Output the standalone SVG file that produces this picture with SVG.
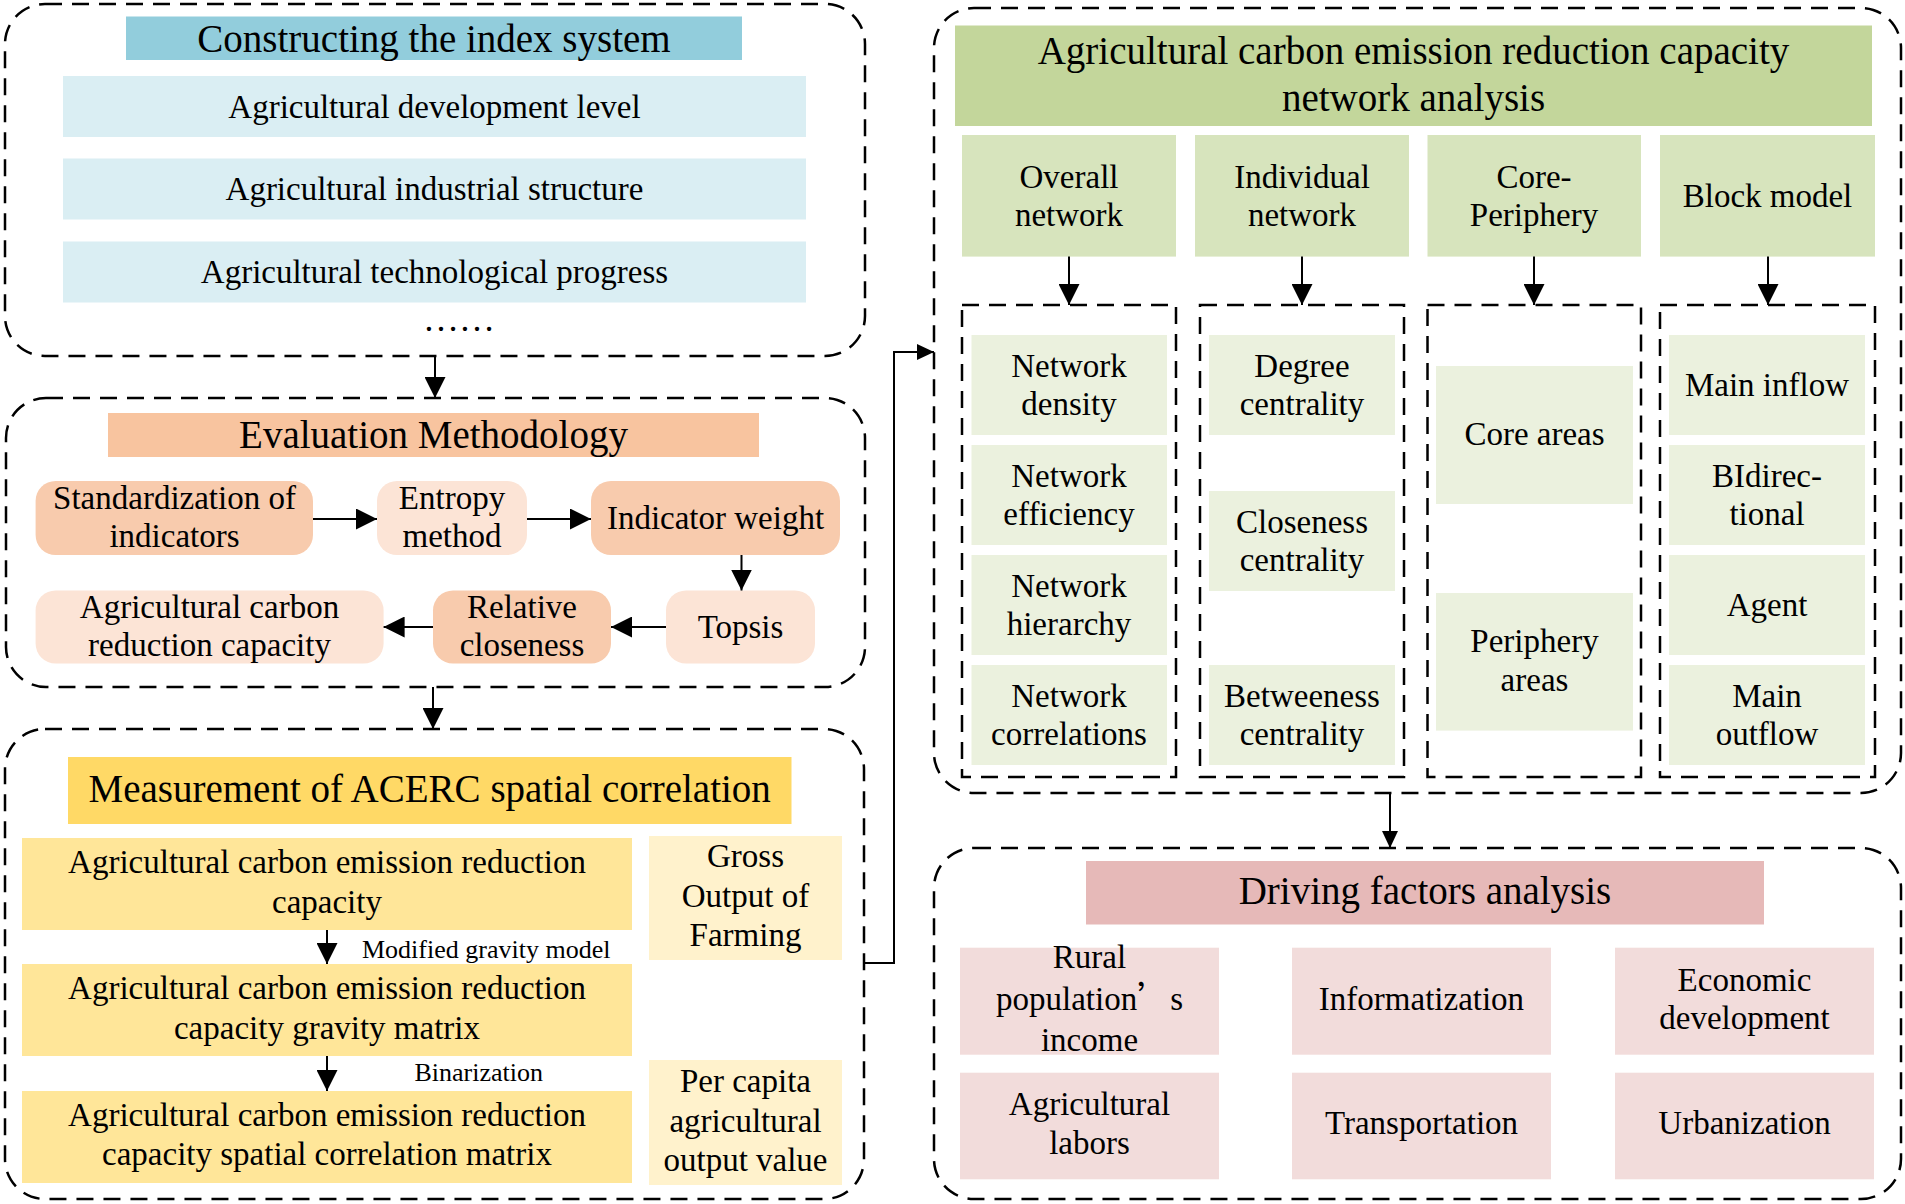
<svg xmlns="http://www.w3.org/2000/svg" width="1905" height="1204" viewBox="0 0 1905 1204">
<style>
.bg{fill:#fff}
.dash{fill:none;stroke:#000;stroke-width:2.5;stroke-dasharray:17 10}
.ln{fill:none;stroke:#000;stroke-width:2}
text{font-family:"Liberation Serif","Times New Roman",serif;font-size:33px;text-anchor:middle;fill:#000}
.h{font-size:39px}
.s{font-size:26px;text-anchor:start}
.c1{fill:#92cddc}.c2{fill:#daeef3}
.o1{fill:#f8c49f}.o2{fill:#f8cbad}.o3{fill:#fce4d6}
.y1{fill:#ffd966}.y2{fill:#ffe699}.y3{fill:#fff2cc}
.g1{fill:#c3d69b}.g2{fill:#d7e4bd}.g3{fill:#ebf1de}
.r1{fill:#e6b9b8}.r2{fill:#f2dcdb}
</style>
<defs>
<marker id="arr" viewBox="0 0 21 21" refX="21" refY="10.5" markerWidth="21" markerHeight="21" markerUnits="userSpaceOnUse" orient="auto"><path d="M0,0 L21,10.5 L0,21 Z" fill="#000"/></marker>
<marker id="arrS" viewBox="0 0 17 16" refX="17" refY="8" markerWidth="17" markerHeight="16" markerUnits="userSpaceOnUse" orient="auto"><path d="M0,0 L17,8 L0,16 Z" fill="#000"/></marker>
</defs>
<rect class="bg" x="0" y="0" width="1905" height="1204"/>

<g id="index-system">
<rect class="dash" x="5" y="4" width="860" height="352" rx="40"/>
<rect class="c1" x="126" y="16.5" width="616" height="43.5"/>
<text class="h" x="434" y="51.5">Constructing the index system</text>
<rect class="c2" x="63" y="76" width="743" height="61"/>
<text x="434.5" y="117.5">Agricultural development level</text>
<rect class="c2" x="63" y="158.5" width="743" height="61"/>
<text x="434.5" y="200">Agricultural industrial structure</text>
<rect class="c2" x="63" y="241.5" width="743" height="61"/>
<text x="434.5" y="283">Agricultural technological progress</text>
<text x="459" y="331" style="font-size:36px">……</text>
</g>

<g id="evaluation">
<rect class="dash" x="6" y="398" width="859" height="289" rx="40"/>
<rect class="o1" x="108" y="413" width="651" height="44"/>
<text class="h" x="433.5" y="448">Evaluation Methodology</text>
<g id="standardization"><rect class="o2" x="35.6" y="481" width="277.4" height="74" rx="20"/>
<text x="174.5" y="509">Standardization of</text><text x="174.5" y="547">indicators</text></g>
<g id="entropy"><rect class="o3" x="377" y="481" width="150" height="74" rx="20"/>
<text x="452" y="509">Entropy</text><text x="452" y="547">method</text></g>
<g id="indicator-weight"><rect class="o2" x="591" y="481" width="249" height="74" rx="20"/>
<text x="715.5" y="529">Indicator weight</text></g>
<g id="topsis"><rect class="o3" x="666" y="590.5" width="149" height="73" rx="20"/>
<text x="740.5" y="637.5">Topsis</text></g>
<g id="relative-closeness"><rect class="o2" x="433" y="590.5" width="178" height="73" rx="20"/>
<text x="522" y="618">Relative</text><text x="522" y="656">closeness</text></g>
<g id="acrc"><rect class="o3" x="35.6" y="590.5" width="348" height="73" rx="20"/>
<text x="209.5" y="618">Agricultural carbon</text><text x="209.5" y="656">reduction capacity</text></g>
</g>

<g id="measurement">
<rect class="dash" x="5" y="729" width="859" height="470" rx="40"/>
<rect class="y1" x="68" y="757" width="723.5" height="67"/>
<text class="h" x="429.7" y="801.5">Measurement of ACERC spatial correlation</text>
<g id="m-box1"><rect class="y2" x="22" y="838" width="610" height="92"/>
<text x="327" y="873">Agricultural carbon emission reduction</text><text x="327" y="913">capacity</text></g>
<g id="m-box2"><rect class="y2" x="22" y="964" width="610" height="92"/>
<text x="327" y="999">Agricultural carbon emission reduction</text><text x="327" y="1039">capacity gravity matrix</text></g>
<g id="m-box3"><rect class="y2" x="22" y="1091" width="610" height="92"/>
<text x="327" y="1126">Agricultural carbon emission reduction</text><text x="327" y="1165">capacity spatial correlation matrix</text></g>
<g id="gross"><rect class="y3" x="649" y="836" width="193" height="124"/>
<text x="745.5" y="866.5">Gross</text><text x="745.5" y="906.5">Output of</text><text x="745.5" y="946">Farming</text></g>
<g id="per-capita"><rect class="y3" x="649" y="1060" width="193" height="125"/>
<text x="745.5" y="1091.5">Per capita</text><text x="745.5" y="1132">agricultural</text><text x="745.5" y="1170.5">output value</text></g>
</g>

<g id="network">
<rect class="dash" x="934" y="8" width="967" height="785" rx="40"/>
<rect class="g1" x="955" y="25.5" width="917" height="100.5"/>
<text class="h" x="1413.5" y="64">Agricultural carbon emission reduction capacity</text>
<text class="h" x="1413.5" y="111">network analysis</text>
<g id="overall"><rect class="g2" x="962" y="135" width="214" height="121.6"/>
<text x="1069" y="188">Overall</text><text x="1069" y="226">network</text></g>
<g id="individual"><rect class="g2" x="1195" y="135" width="214" height="121.6"/>
<text x="1302" y="188">Individual</text><text x="1302" y="226">network</text></g>
<g id="core-periphery"><rect class="g2" x="1427.5" y="135" width="213.5" height="121.6"/>
<text x="1534" y="188">Core-</text><text x="1534" y="226">Periphery</text></g>
<g id="block"><rect class="g2" x="1660" y="135" width="215" height="121.6"/>
<text x="1767.5" y="206.5">Block model</text></g>
<g id="col1">
<rect class="dash" x="962" y="305" width="214" height="472"/>
<rect class="g3" x="971.5" y="335" width="195.5" height="100"/><text x="1069" y="376.5">Network</text><text x="1069" y="415">density</text>
<rect class="g3" x="971.5" y="445" width="195.5" height="100"/><text x="1069" y="486.5">Network</text><text x="1069" y="525">efficiency</text>
<rect class="g3" x="971.5" y="555" width="195.5" height="100"/><text x="1069" y="596.5">Network</text><text x="1069" y="635">hierarchy</text>
<rect class="g3" x="971.5" y="665" width="195.5" height="100"/><text x="1069" y="706.5">Network</text><text x="1069" y="745">correlations</text>
</g>
<g id="col2">
<rect class="dash" x="1200" y="305" width="204" height="472"/>
<rect class="g3" x="1209" y="335" width="186" height="100"/><text x="1302" y="376.5">Degree</text><text x="1302" y="415">centrality</text>
<rect class="g3" x="1209" y="491" width="186" height="100"/><text x="1302" y="532.5">Closeness</text><text x="1302" y="571">centrality</text>
<rect class="g3" x="1209" y="665" width="186" height="100"/><text x="1302" y="706.5">Betweeness</text><text x="1302" y="745">centrality</text>
</g>
<g id="col3">
<rect class="dash" x="1427.5" y="305" width="213.5" height="472"/>
<rect class="g3" x="1436" y="366" width="197" height="138"/><text x="1534.5" y="445">Core areas</text>
<rect class="g3" x="1436" y="593" width="197" height="137.6"/><text x="1534.5" y="651.5">Periphery</text><text x="1534.5" y="691">areas</text>
</g>
<g id="col4">
<rect class="dash" x="1660" y="305" width="215" height="472"/>
<rect class="g3" x="1669" y="335" width="196" height="100"/><text x="1767" y="396">Main inflow</text>
<rect class="g3" x="1669" y="445" width="196" height="100"/><text x="1767" y="486.5">BIdirec-</text><text x="1767" y="525">tional</text>
<rect class="g3" x="1669" y="555" width="196" height="100"/><text x="1767" y="616">Agent</text>
<rect class="g3" x="1669" y="665" width="196" height="100"/><text x="1767" y="706.5">Main</text><text x="1767" y="745">outflow</text>
</g>
</g>

<g id="driving">
<rect class="dash" x="934" y="848" width="967" height="351" rx="40"/>
<rect class="r1" x="1086" y="861" width="678" height="63.5"/>
<text class="h" x="1425" y="904">Driving factors analysis</text>
<g id="rural"><rect class="r2" x="960" y="947.7" width="259" height="107"/>
<text x="1089.5" y="968">Rural</text><text x="1089.5" y="1009.5">population<tspan font-family="Noto Sans CJK SC, sans-serif">’</tspan>s</text><text x="1089.5" y="1050.5">income</text></g>
<g id="informatization"><rect class="r2" x="1292" y="947.7" width="259" height="107"/>
<text x="1421.5" y="1010">Informatization</text></g>
<g id="economic"><rect class="r2" x="1615" y="947.7" width="259" height="107"/>
<text x="1744.5" y="990.5">Economic</text><text x="1744.5" y="1029">development</text></g>
<g id="labors"><rect class="r2" x="960" y="1072.7" width="259" height="106.6"/>
<text x="1089.5" y="1115">Agricultural</text><text x="1089.5" y="1154">labors</text></g>
<g id="transportation"><rect class="r2" x="1292" y="1072.7" width="259" height="106.6"/>
<text x="1421.5" y="1134">Transportation</text></g>
<g id="urbanization"><rect class="r2" x="1615" y="1072.7" width="259" height="106.6"/>
<text x="1744.5" y="1134">Urbanization</text></g>
</g>

<g id="connectors">
<line class="ln" x1="435" y1="356" x2="435" y2="398" marker-end="url(#arr)"/>
<line class="ln" x1="433" y1="687" x2="433" y2="729" marker-end="url(#arr)"/>
<line class="ln" x1="313" y1="519" x2="377" y2="519" marker-end="url(#arr)"/>
<line class="ln" x1="527" y1="519" x2="591" y2="519" marker-end="url(#arr)"/>
<line class="ln" x1="741.5" y1="555" x2="741.5" y2="590.5" marker-end="url(#arr)"/>
<line class="ln" x1="666" y1="627" x2="611" y2="627" marker-end="url(#arr)"/>
<line class="ln" x1="433" y1="627" x2="383.6" y2="627" marker-end="url(#arr)"/>
<line class="ln" x1="327" y1="930" x2="327" y2="964" marker-end="url(#arr)"/>
<line class="ln" x1="327" y1="1056" x2="327" y2="1091" marker-end="url(#arr)"/>
<text class="s" x="362" y="958">Modified gravity model</text>
<text class="s" x="414.5" y="1080.5">Binarization</text>
<polyline class="ln" points="864,963 894,963 894,352 934,352" marker-end="url(#arrS)"/>
<line class="ln" x1="1069" y1="256.6" x2="1069" y2="305" marker-end="url(#arr)"/>
<line class="ln" x1="1302" y1="256.6" x2="1302" y2="305" marker-end="url(#arr)"/>
<line class="ln" x1="1534" y1="256.6" x2="1534" y2="305" marker-end="url(#arr)"/>
<line class="ln" x1="1768" y1="256.6" x2="1768" y2="305" marker-end="url(#arr)"/>
<line class="ln" x1="1390" y1="793" x2="1390" y2="848" marker-end="url(#arrS)"/>
</g>
</svg>
